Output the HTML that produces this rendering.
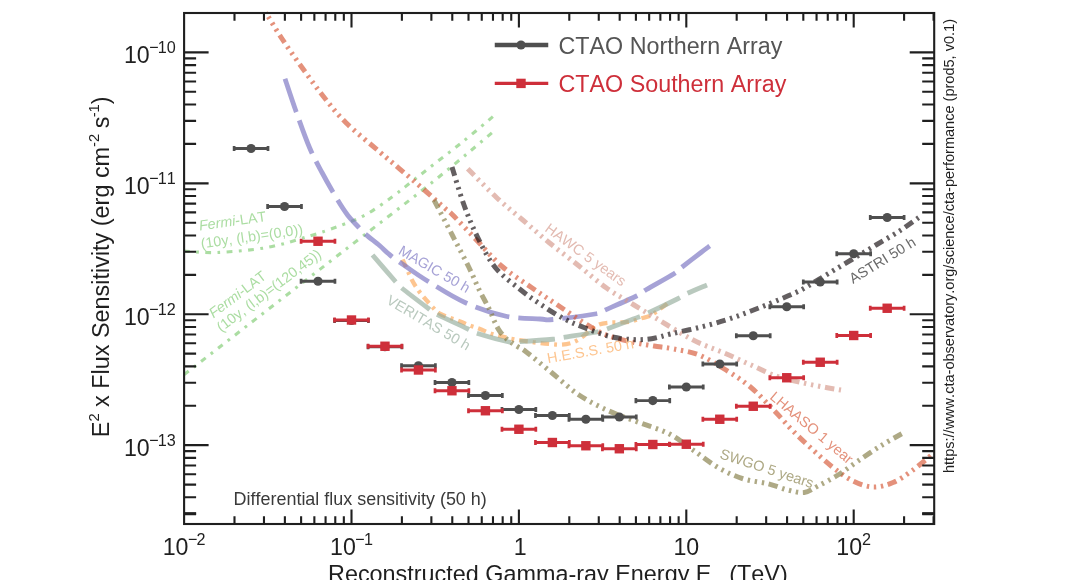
<!DOCTYPE html>
<html lang="en"><head><meta charset="utf-8"><title>CTAO differential flux sensitivity</title>
<style>html,body{margin:0;padding:0;background:#fff;}body{width:1068px;height:580px;overflow:hidden;}svg{display:block;}text{font-family:"Liberation Sans",Arial,Helvetica,sans-serif;font-kerning:none;}</style></head><body>
<svg width="1068" height="580" viewBox="0 0 1068 580">
<rect x="0" y="0" width="1068" height="580" fill="#fff"/>
<g fill="none" stroke-linecap="butt" stroke-linejoin="round">
<path d="M184.00 251.00 C189.50 251.25 203.17 253.08 217.00 252.50 C230.83 251.92 251.58 250.25 267.00 247.50 C282.42 244.75 297.00 239.75 309.50 236.00 C322.00 232.25 332.42 228.67 342.00 225.00 C351.58 221.33 358.67 218.67 367.00 214.00 C375.33 209.33 384.83 202.17 392.00 197.00 C399.17 191.83 404.10 187.62 410.00 183.00 C415.90 178.38 418.80 176.02 427.40 169.30 C436.00 162.58 450.20 151.88 461.60 142.70 C473.00 133.52 490.10 118.95 495.80 114.20" stroke="#7ECB70" stroke-opacity="0.65" stroke-width="3.1" stroke-dasharray="5.8 6.4 2.8 6.4" stroke-dashoffset="0.0"/>
<path d="M184.30 374.50 C197.25 364.45 236.05 334.32 262.00 314.20 C287.95 294.08 311.67 275.75 340.00 253.80 C368.33 231.85 406.12 203.13 432.00 182.50 C457.88 161.87 484.71 138.75 495.25 130.00" stroke="#7ECB70" stroke-opacity="0.65" stroke-width="3.1" stroke-dasharray="5.8 6.4 2.8 6.4" stroke-dashoffset="0.0"/>
<path d="M402.60 259.50 C404.12 262.82 409.02 274.18 411.70 279.40 C414.38 284.62 416.43 287.55 418.70 290.80 C420.97 294.05 423.08 296.28 425.30 298.90 C427.52 301.52 429.47 303.98 432.00 306.50 C434.53 309.02 435.92 311.55 440.50 314.00 C445.08 316.45 454.60 319.28 459.50 321.20 C464.40 323.12 466.58 324.25 469.90 325.50 C473.22 326.75 476.25 327.48 479.40 328.70 C482.55 329.92 485.65 331.63 488.80 332.80 C491.95 333.97 493.93 334.58 498.30 335.70 C502.67 336.82 509.05 338.40 515.00 339.50 C520.95 340.60 528.17 341.55 534.00 342.30 C539.83 343.05 545.40 343.62 550.00 344.00 C554.60 344.38 557.92 344.82 561.60 344.60 C565.28 344.38 568.82 343.85 572.10 342.70 C575.38 341.55 578.32 339.73 581.30 337.70 C584.28 335.67 587.05 332.68 590.00 330.50 C592.95 328.32 595.87 325.90 599.00 324.60 C602.13 323.30 605.42 323.07 608.80 322.70 C612.18 322.33 615.70 322.57 619.30 322.40 C622.90 322.23 626.80 322.37 630.40 321.70 C634.00 321.03 637.63 319.38 640.90 318.40 C644.17 317.42 646.93 317.27 650.00 315.80 C653.07 314.33 656.23 311.78 659.30 309.60 C662.37 307.42 666.88 303.85 668.40 302.70" stroke="#FCA654" stroke-opacity="0.65" stroke-width="4.3" stroke-dasharray="8.5 5 3 5" stroke-dashoffset="0.0"/>
<path d="M372.50 255.00 C376.25 259.33 390.25 275.58 395.00 281.00 C399.75 286.42 395.38 282.88 401.00 287.50 C406.62 292.12 422.92 304.38 428.75 308.75 C434.58 313.12 429.54 310.42 436.00 313.75 C442.46 317.08 460.96 325.58 467.50 328.75 C474.04 331.92 468.33 330.54 475.25 332.75 C482.17 334.96 501.71 340.50 509.00 342.00 C516.29 343.50 511.71 342.21 519.00 341.75 C526.29 341.29 545.46 339.96 552.75 339.25 C560.04 338.54 555.88 338.62 562.75 337.50 C569.62 336.38 587.12 333.75 594.00 332.50 C600.88 331.25 597.33 332.29 604.00 330.00 C610.67 327.71 626.92 321.46 634.00 318.75 C641.08 316.04 639.21 317.08 646.50 313.75 C653.79 310.42 671.08 302.08 677.75 298.75 C684.42 295.42 681.62 296.04 686.50 293.75 C691.38 291.46 703.58 286.46 707.00 285.00" stroke="#93AC9B" stroke-opacity="0.65" stroke-width="4.8" stroke-dasharray="35.2 9.0" stroke-dashoffset="0.0"/>
<path d="M285.00 78.75 C286.88 84.29 292.17 100.54 296.25 112.00 C300.33 123.46 305.21 137.42 309.50 147.50 C313.79 157.58 317.42 163.92 322.00 172.50 C326.58 181.08 332.75 191.92 337.00 199.00 C341.25 206.08 344.17 210.58 347.50 215.00 C350.83 219.42 354.08 222.38 357.00 225.50 C359.92 228.62 361.25 230.42 365.00 233.75 C368.75 237.08 375.33 241.96 379.50 245.50 C383.67 249.04 385.83 251.67 390.00 255.00 C394.17 258.33 398.25 261.17 404.50 265.50 C410.75 269.83 417.42 274.83 427.50 281.00 C437.58 287.17 452.08 296.67 465.00 302.50 C477.92 308.33 492.50 313.25 505.00 316.00 C517.50 318.75 532.00 318.42 540.00 319.00 C548.00 319.58 543.58 320.38 553.00 319.50 C562.42 318.62 588.00 315.25 596.50 313.75 C605.00 312.25 597.33 313.46 604.00 310.50 C610.67 307.54 629.42 299.50 636.50 296.00 C643.58 292.50 640.25 293.21 646.50 289.50 C652.75 285.79 668.17 277.42 674.00 273.75 C679.83 270.08 677.00 271.04 681.50 267.50 C686.00 263.96 696.29 256.08 701.00 252.50 C705.71 248.92 708.29 247.08 709.75 246.00" stroke="#7670C0" stroke-opacity="0.65" stroke-width="4.8" stroke-dasharray="35.2 9.0" stroke-dashoffset="0.0"/>
<path d="M467.75 168.75 C472.54 173.54 487.33 188.96 496.50 197.50 C505.67 206.04 514.00 212.50 522.75 220.00 C531.50 227.50 539.83 235.00 549.00 242.50 C558.17 250.00 568.17 257.42 577.75 265.00 C587.33 272.58 597.12 281.33 606.50 288.00 C615.88 294.67 625.25 299.67 634.00 305.00 C642.75 310.33 650.67 315.00 659.00 320.00 C667.33 325.00 677.00 331.04 684.00 335.00 C691.00 338.96 694.00 340.62 701.00 343.75 C708.00 346.88 717.67 350.21 726.00 353.75 C734.33 357.29 742.67 361.29 751.00 365.00 C759.33 368.71 767.67 373.08 776.00 376.00 C784.33 378.92 792.67 380.58 801.00 382.50 C809.33 384.42 819.33 386.25 826.00 387.50 C832.67 388.75 838.50 389.58 841.00 390.00" stroke="#D49689" stroke-opacity="0.65" stroke-width="5.0" stroke-dasharray="9.4 4.7 2.4 4.7 2.4 4.7 2.4 4.7" stroke-dashoffset="0.0"/>
<path d="M265.75 12.50 C268.46 16.88 275.96 29.58 282.00 38.75 C288.04 47.92 295.12 57.92 302.00 67.50 C308.88 77.08 315.96 87.08 323.25 96.25 C330.54 105.42 336.29 113.17 345.75 122.50 C355.21 131.82 371.12 144.57 380.00 152.20 C388.88 159.83 391.42 161.83 399.00 168.30 C406.58 174.77 417.92 184.38 425.50 191.00 C433.08 197.62 439.96 204.00 444.50 208.00 C449.04 212.00 447.42 209.67 452.75 215.00 C458.08 220.33 468.38 231.50 476.50 240.00 C484.62 248.50 492.33 258.08 501.50 266.00 C510.67 273.92 521.92 280.83 531.50 287.50 C541.08 294.17 549.42 299.58 559.00 306.00 C568.58 312.42 580.67 321.00 589.00 326.00 C597.33 331.00 601.50 333.25 609.00 336.00 C616.50 338.75 626.50 340.83 634.00 342.50 C641.50 344.17 647.33 344.92 654.00 346.00 C660.67 347.08 666.50 347.50 674.00 349.00 C681.50 350.50 690.33 351.50 699.00 355.00 C707.67 358.50 717.33 364.58 726.00 370.00 C734.67 375.42 742.67 380.42 751.00 387.50 C759.33 394.58 769.00 405.25 776.00 412.50 C783.00 419.75 786.83 424.75 793.00 431.00 C799.17 437.25 806.33 443.92 813.00 450.00 C819.67 456.08 826.33 462.33 833.00 467.50 C839.67 472.67 846.33 477.75 853.00 481.00 C859.67 484.25 866.33 486.75 873.00 487.00 C879.67 487.25 886.33 485.33 893.00 482.50 C899.67 479.67 906.33 474.79 913.00 470.00 C919.67 465.21 929.67 456.46 933.00 453.75" stroke="#D55634" stroke-opacity="0.65" stroke-width="5.0" stroke-dasharray="9.4 4.7 2.4 4.7 2.4 4.7 2.4 4.7" stroke-dashoffset="9.0"/>
<path d="M434.00 200.00 C437.12 206.00 446.92 224.75 452.75 236.00 C458.58 247.25 464.62 258.58 469.00 267.50 C473.38 276.42 475.67 282.67 479.00 289.50 C482.33 296.33 486.38 303.10 489.00 308.50 C491.62 313.90 492.97 318.20 494.70 321.90 C496.43 325.60 497.42 327.85 499.40 330.70 C501.38 333.55 504.45 336.93 506.60 339.00 C508.75 341.07 510.40 341.80 512.30 343.10 C514.20 344.40 515.67 345.33 518.00 346.80 C520.33 348.27 520.72 347.62 526.30 351.90 C531.88 356.18 542.72 365.32 551.50 372.50 C560.28 379.68 569.42 388.58 579.00 395.00 C588.58 401.42 599.00 406.42 609.00 411.00 C619.00 415.58 629.00 418.71 639.00 422.50 C649.00 426.29 660.00 429.17 669.00 433.75 C678.00 438.33 684.83 444.38 693.00 450.00 C701.17 455.62 709.67 462.71 718.00 467.50 C726.33 472.29 734.67 476.04 743.00 478.75 C751.33 481.46 760.50 481.88 768.00 483.75 C775.50 485.62 781.96 488.54 788.00 490.00 C794.04 491.46 799.25 493.17 804.25 492.50 C809.25 491.83 812.38 488.92 818.00 486.00 C823.62 483.08 831.33 479.17 838.00 475.00 C844.67 470.83 850.92 465.83 858.00 461.00 C865.08 456.17 873.21 450.54 880.50 446.00 C887.79 441.46 898.21 435.79 901.75 433.75" stroke="#827B43" stroke-opacity="0.65" stroke-width="5.0" stroke-dasharray="9.4 4.7 2.4 4.7 2.4 4.7 2.4 4.7" stroke-dashoffset="0.0"/>
<path d="M452.00 167.00 C454.00 173.33 459.71 193.25 464.00 205.00 C468.29 216.75 472.54 227.08 477.75 237.50 C482.96 247.92 488.17 258.83 495.25 267.50 C502.33 276.17 512.54 283.25 520.25 289.50 C527.96 295.75 534.21 300.12 541.50 305.00 C548.79 309.88 556.92 315.00 564.00 318.75 C571.08 322.50 576.50 324.58 584.00 327.50 C591.50 330.42 601.08 334.25 609.00 336.25 C616.92 338.25 624.42 339.08 631.50 339.50 C638.58 339.92 644.83 339.71 651.50 338.75 C658.17 337.79 663.58 335.62 671.50 333.75 C679.42 331.88 689.92 329.79 699.00 327.50 C708.08 325.21 717.33 322.75 726.00 320.00 C734.67 317.25 742.67 314.17 751.00 311.00 C759.33 307.83 767.67 304.50 776.00 301.00 C784.33 297.50 792.67 294.33 801.00 290.00 C809.33 285.67 817.67 280.00 826.00 275.00 C834.33 270.00 842.67 265.00 851.00 260.00 C859.33 255.00 867.67 250.00 876.00 245.00 C884.33 240.00 893.29 235.00 901.00 230.00 C908.71 225.00 918.71 217.50 922.25 215.00" stroke="#11090C" stroke-opacity="0.65" stroke-width="5.0" stroke-dasharray="9.4 4.7 2.4 4.7 2.4 4.7 2.4 4.7" stroke-dashoffset="0.0"/>
</g>
<text x="199.7" y="230.5" transform="rotate(-8.0 199.7 230.5)" fill="#ABDDA2" font-size="14.3" text-anchor="start"><tspan font-style="italic">Fermi</tspan>-LAT</text>
<text x="201.5" y="248.5" transform="rotate(-8.0 201.5 248.5)" fill="#ABDDA2" font-size="14.3" text-anchor="start">(10y, (l,b)=(0,0))</text>
<text x="213.4" y="318.6" transform="rotate(-37.0 213.4 318.6)" fill="#ABDDA2" font-size="14.3" text-anchor="start"><tspan font-style="italic">Fermi</tspan>-LAT</text>
<text x="221.2" y="332.4" transform="rotate(-37.0 221.2 332.4)" fill="#ABDDA2" font-size="14.3" text-anchor="start">(10y, (l,b)=(120,45))</text>
<text x="397.5" y="253.5" transform="rotate(30.0 397.5 253.5)" fill="#A6A2D6" font-size="14.5" text-anchor="start">MAGIC 50 h</text>
<text x="385.5" y="303.0" transform="rotate(30.5 385.5 303.0)" fill="#B9C9BE" font-size="14.5" text-anchor="start">VERITAS 50 h</text>
<text x="548.0" y="363.3" transform="rotate(-10.0 548.0 363.3)" fill="#FDC590" font-size="14.5" text-anchor="start">H.E.S.S. 50 h</text>
<text x="544.0" y="230.5" transform="rotate(36.0 544.0 230.5)" fill="#E3BBB2" font-size="14.5" text-anchor="start">HAWC 5 years</text>
<text x="853.0" y="284.0" transform="rotate(-31.5 853.0 284.0)" fill="#6A6A6A" font-size="14.5" text-anchor="start">ASTRI 50 h</text>
<text x="769.0" y="398.2" transform="rotate(40.0 769.0 398.2)" fill="#E4917B" font-size="14.5" text-anchor="start">LHAASO 1 year</text>
<text x="719.0" y="458.0" transform="rotate(18.0 719.0 458.0)" fill="#AEA985" font-size="14.5" text-anchor="start">SWGO 5 years</text>
<path d="M234.32 148.50 H267.80" stroke="#4F4F4F" stroke-width="2.8" fill="none"/>
<path d="M234.12 145.90 V151.10 M268.00 145.90 V151.10" stroke="#4F4F4F" stroke-width="2.7" fill="none"/>
<circle cx="251.06" cy="148.50" r="4.6" fill="#4F4F4F"/>
<path d="M267.80 206.50 H301.28" stroke="#4F4F4F" stroke-width="2.8" fill="none"/>
<path d="M267.60 203.90 V209.10 M301.48 203.90 V209.10" stroke="#4F4F4F" stroke-width="2.7" fill="none"/>
<circle cx="284.54" cy="206.50" r="4.6" fill="#4F4F4F"/>
<path d="M301.28 281.25 H334.76" stroke="#4F4F4F" stroke-width="2.8" fill="none"/>
<path d="M301.08 278.65 V283.85 M334.96 278.65 V283.85" stroke="#4F4F4F" stroke-width="2.7" fill="none"/>
<circle cx="318.02" cy="281.25" r="4.6" fill="#4F4F4F"/>
<path d="M334.76 320.50 H368.24" stroke="#4F4F4F" stroke-width="2.8" fill="none"/>
<path d="M334.56 317.90 V323.10 M368.44 317.90 V323.10" stroke="#4F4F4F" stroke-width="2.7" fill="none"/>
<circle cx="351.50" cy="320.50" r="4.6" fill="#4F4F4F"/>
<path d="M368.24 346.75 H401.72" stroke="#4F4F4F" stroke-width="2.8" fill="none"/>
<path d="M368.04 344.15 V349.35 M401.92 344.15 V349.35" stroke="#4F4F4F" stroke-width="2.7" fill="none"/>
<circle cx="384.98" cy="346.75" r="4.6" fill="#4F4F4F"/>
<path d="M401.72 365.75 H435.20" stroke="#4F4F4F" stroke-width="2.8" fill="none"/>
<path d="M401.52 363.15 V368.35 M435.40 363.15 V368.35" stroke="#4F4F4F" stroke-width="2.7" fill="none"/>
<circle cx="418.46" cy="365.75" r="4.6" fill="#4F4F4F"/>
<path d="M435.20 382.50 H468.68" stroke="#4F4F4F" stroke-width="2.8" fill="none"/>
<path d="M435.00 379.90 V385.10 M468.88 379.90 V385.10" stroke="#4F4F4F" stroke-width="2.7" fill="none"/>
<circle cx="451.94" cy="382.50" r="4.6" fill="#4F4F4F"/>
<path d="M468.68 395.50 H502.16" stroke="#4F4F4F" stroke-width="2.8" fill="none"/>
<path d="M468.48 392.90 V398.10 M502.36 392.90 V398.10" stroke="#4F4F4F" stroke-width="2.7" fill="none"/>
<circle cx="485.42" cy="395.50" r="4.6" fill="#4F4F4F"/>
<path d="M502.16 409.50 H535.64" stroke="#4F4F4F" stroke-width="2.8" fill="none"/>
<path d="M501.96 406.90 V412.10 M535.84 406.90 V412.10" stroke="#4F4F4F" stroke-width="2.7" fill="none"/>
<circle cx="518.90" cy="409.50" r="4.6" fill="#4F4F4F"/>
<path d="M535.64 415.50 H569.12" stroke="#4F4F4F" stroke-width="2.8" fill="none"/>
<path d="M535.44 412.90 V418.10 M569.32 412.90 V418.10" stroke="#4F4F4F" stroke-width="2.7" fill="none"/>
<circle cx="552.38" cy="415.50" r="4.6" fill="#4F4F4F"/>
<path d="M569.12 419.25 H602.60" stroke="#4F4F4F" stroke-width="2.8" fill="none"/>
<path d="M568.92 416.65 V421.85 M602.80 416.65 V421.85" stroke="#4F4F4F" stroke-width="2.7" fill="none"/>
<circle cx="585.86" cy="419.25" r="4.6" fill="#4F4F4F"/>
<path d="M602.60 417.00 H636.08" stroke="#4F4F4F" stroke-width="2.8" fill="none"/>
<path d="M602.40 414.40 V419.60 M636.28 414.40 V419.60" stroke="#4F4F4F" stroke-width="2.7" fill="none"/>
<circle cx="619.34" cy="417.00" r="4.6" fill="#4F4F4F"/>
<path d="M636.08 400.60 H669.56" stroke="#4F4F4F" stroke-width="2.8" fill="none"/>
<path d="M635.88 398.00 V403.20 M669.76 398.00 V403.20" stroke="#4F4F4F" stroke-width="2.7" fill="none"/>
<circle cx="652.82" cy="400.60" r="4.6" fill="#4F4F4F"/>
<path d="M669.56 387.00 H703.04" stroke="#4F4F4F" stroke-width="2.8" fill="none"/>
<path d="M669.36 384.40 V389.60 M703.24 384.40 V389.60" stroke="#4F4F4F" stroke-width="2.7" fill="none"/>
<circle cx="686.30" cy="387.00" r="4.6" fill="#4F4F4F"/>
<path d="M703.04 364.00 H736.52" stroke="#4F4F4F" stroke-width="2.8" fill="none"/>
<path d="M702.84 361.40 V366.60 M736.72 361.40 V366.60" stroke="#4F4F4F" stroke-width="2.7" fill="none"/>
<circle cx="719.78" cy="364.00" r="4.6" fill="#4F4F4F"/>
<path d="M736.52 335.75 H770.00" stroke="#4F4F4F" stroke-width="2.8" fill="none"/>
<path d="M736.32 333.15 V338.35 M770.20 333.15 V338.35" stroke="#4F4F4F" stroke-width="2.7" fill="none"/>
<circle cx="753.26" cy="335.75" r="4.6" fill="#4F4F4F"/>
<path d="M770.00 306.75 H803.48" stroke="#4F4F4F" stroke-width="2.8" fill="none"/>
<path d="M769.80 304.15 V309.35 M803.68 304.15 V309.35" stroke="#4F4F4F" stroke-width="2.7" fill="none"/>
<circle cx="786.74" cy="306.75" r="4.6" fill="#4F4F4F"/>
<path d="M803.48 282.00 H836.96" stroke="#4F4F4F" stroke-width="2.8" fill="none"/>
<path d="M803.28 279.40 V284.60 M837.16 279.40 V284.60" stroke="#4F4F4F" stroke-width="2.7" fill="none"/>
<circle cx="820.22" cy="282.00" r="4.6" fill="#4F4F4F"/>
<path d="M836.96 253.75 H870.44" stroke="#4F4F4F" stroke-width="2.8" fill="none"/>
<path d="M836.76 251.15 V256.35 M870.64 251.15 V256.35" stroke="#4F4F4F" stroke-width="2.7" fill="none"/>
<circle cx="853.70" cy="253.75" r="4.6" fill="#4F4F4F"/>
<path d="M870.44 217.50 H903.92" stroke="#4F4F4F" stroke-width="2.8" fill="none"/>
<path d="M870.24 214.90 V220.10 M904.12 214.90 V220.10" stroke="#4F4F4F" stroke-width="2.7" fill="none"/>
<circle cx="887.18" cy="217.50" r="4.6" fill="#4F4F4F"/>
<path d="M301.28 241.25 H334.76" stroke="#CE2F3A" stroke-width="3.1" fill="none"/>
<path d="M301.08 238.65 V243.85 M334.96 238.65 V243.85" stroke="#CE2F3A" stroke-width="2.7" fill="none"/>
<rect x="313.32" y="236.55" width="9.4" height="9.4" fill="#CE2F3A"/>
<path d="M334.76 320.00 H368.24" stroke="#CE2F3A" stroke-width="3.1" fill="none"/>
<path d="M334.56 317.40 V322.60 M368.44 317.40 V322.60" stroke="#CE2F3A" stroke-width="2.7" fill="none"/>
<rect x="346.80" y="315.30" width="9.4" height="9.4" fill="#CE2F3A"/>
<path d="M368.24 346.25 H401.72" stroke="#CE2F3A" stroke-width="3.1" fill="none"/>
<path d="M368.04 343.65 V348.85 M401.92 343.65 V348.85" stroke="#CE2F3A" stroke-width="2.7" fill="none"/>
<rect x="380.28" y="341.55" width="9.4" height="9.4" fill="#CE2F3A"/>
<path d="M401.72 370.00 H435.20" stroke="#CE2F3A" stroke-width="3.1" fill="none"/>
<path d="M401.52 367.40 V372.60 M435.40 367.40 V372.60" stroke="#CE2F3A" stroke-width="2.7" fill="none"/>
<rect x="413.76" y="365.30" width="9.4" height="9.4" fill="#CE2F3A"/>
<path d="M435.20 390.75 H468.68" stroke="#CE2F3A" stroke-width="3.1" fill="none"/>
<path d="M435.00 388.15 V393.35 M468.88 388.15 V393.35" stroke="#CE2F3A" stroke-width="2.7" fill="none"/>
<rect x="447.24" y="386.05" width="9.4" height="9.4" fill="#CE2F3A"/>
<path d="M468.68 410.75 H502.16" stroke="#CE2F3A" stroke-width="3.1" fill="none"/>
<path d="M468.48 408.15 V413.35 M502.36 408.15 V413.35" stroke="#CE2F3A" stroke-width="2.7" fill="none"/>
<rect x="480.72" y="406.05" width="9.4" height="9.4" fill="#CE2F3A"/>
<path d="M502.16 429.25 H535.64" stroke="#CE2F3A" stroke-width="3.1" fill="none"/>
<path d="M501.96 426.65 V431.85 M535.84 426.65 V431.85" stroke="#CE2F3A" stroke-width="2.7" fill="none"/>
<rect x="514.20" y="424.55" width="9.4" height="9.4" fill="#CE2F3A"/>
<path d="M535.64 442.50 H569.12" stroke="#CE2F3A" stroke-width="3.1" fill="none"/>
<path d="M535.44 439.90 V445.10 M569.32 439.90 V445.10" stroke="#CE2F3A" stroke-width="2.7" fill="none"/>
<rect x="547.68" y="437.80" width="9.4" height="9.4" fill="#CE2F3A"/>
<path d="M569.12 445.75 H602.60" stroke="#CE2F3A" stroke-width="3.1" fill="none"/>
<path d="M568.92 443.15 V448.35 M602.80 443.15 V448.35" stroke="#CE2F3A" stroke-width="2.7" fill="none"/>
<rect x="581.16" y="441.05" width="9.4" height="9.4" fill="#CE2F3A"/>
<path d="M602.60 448.75 H636.08" stroke="#CE2F3A" stroke-width="3.1" fill="none"/>
<path d="M602.40 446.15 V451.35 M636.28 446.15 V451.35" stroke="#CE2F3A" stroke-width="2.7" fill="none"/>
<rect x="614.64" y="444.05" width="9.4" height="9.4" fill="#CE2F3A"/>
<path d="M636.08 444.50 H669.56" stroke="#CE2F3A" stroke-width="3.1" fill="none"/>
<path d="M635.88 441.90 V447.10 M669.76 441.90 V447.10" stroke="#CE2F3A" stroke-width="2.7" fill="none"/>
<rect x="648.12" y="439.80" width="9.4" height="9.4" fill="#CE2F3A"/>
<path d="M669.56 444.25 H703.04" stroke="#CE2F3A" stroke-width="3.1" fill="none"/>
<path d="M669.36 441.65 V446.85 M703.24 441.65 V446.85" stroke="#CE2F3A" stroke-width="2.7" fill="none"/>
<rect x="681.60" y="439.55" width="9.4" height="9.4" fill="#CE2F3A"/>
<path d="M703.04 419.25 H736.52" stroke="#CE2F3A" stroke-width="3.1" fill="none"/>
<path d="M702.84 416.65 V421.85 M736.72 416.65 V421.85" stroke="#CE2F3A" stroke-width="2.7" fill="none"/>
<rect x="715.08" y="414.55" width="9.4" height="9.4" fill="#CE2F3A"/>
<path d="M736.52 406.25 H770.00" stroke="#CE2F3A" stroke-width="3.1" fill="none"/>
<path d="M736.32 403.65 V408.85 M770.20 403.65 V408.85" stroke="#CE2F3A" stroke-width="2.7" fill="none"/>
<rect x="748.56" y="401.55" width="9.4" height="9.4" fill="#CE2F3A"/>
<path d="M770.00 377.75 H803.48" stroke="#CE2F3A" stroke-width="3.1" fill="none"/>
<path d="M769.80 375.15 V380.35 M803.68 375.15 V380.35" stroke="#CE2F3A" stroke-width="2.7" fill="none"/>
<rect x="782.04" y="373.05" width="9.4" height="9.4" fill="#CE2F3A"/>
<path d="M803.48 362.25 H836.96" stroke="#CE2F3A" stroke-width="3.1" fill="none"/>
<path d="M803.28 359.65 V364.85 M837.16 359.65 V364.85" stroke="#CE2F3A" stroke-width="2.7" fill="none"/>
<rect x="815.52" y="357.55" width="9.4" height="9.4" fill="#CE2F3A"/>
<path d="M836.96 335.50 H870.44" stroke="#CE2F3A" stroke-width="3.1" fill="none"/>
<path d="M836.76 332.90 V338.10 M870.64 332.90 V338.10" stroke="#CE2F3A" stroke-width="2.7" fill="none"/>
<rect x="849.00" y="330.80" width="9.4" height="9.4" fill="#CE2F3A"/>
<path d="M870.44 308.25 H903.92" stroke="#CE2F3A" stroke-width="3.1" fill="none"/>
<path d="M870.24 305.65 V310.85 M904.12 305.65 V310.85" stroke="#CE2F3A" stroke-width="2.7" fill="none"/>
<rect x="882.48" y="303.55" width="9.4" height="9.4" fill="#CE2F3A"/>
<g stroke="#1f1f1f" stroke-width="2.1" fill="none" stroke-linecap="butt">
<rect x="184.10" y="13.00" width="750.10" height="511.00"/>
<path d="M234.49 524.00 v-7.80 M234.49 13.00 v7.80 M263.97 524.00 v-7.80 M263.97 13.00 v7.80 M284.88 524.00 v-7.80 M284.88 13.00 v7.80 M301.11 524.00 v-7.80 M301.11 13.00 v7.80 M314.36 524.00 v-7.80 M314.36 13.00 v7.80 M325.57 524.00 v-7.80 M325.57 13.00 v7.80 M335.28 524.00 v-7.80 M335.28 13.00 v7.80 M343.84 524.00 v-7.80 M343.84 13.00 v7.80 M351.50 524.00 v-14.50 M351.50 13.00 v14.50 M401.89 524.00 v-7.80 M401.89 13.00 v7.80 M431.37 524.00 v-7.80 M431.37 13.00 v7.80 M452.28 524.00 v-7.80 M452.28 13.00 v7.80 M468.51 524.00 v-7.80 M468.51 13.00 v7.80 M481.76 524.00 v-7.80 M481.76 13.00 v7.80 M492.97 524.00 v-7.80 M492.97 13.00 v7.80 M502.68 524.00 v-7.80 M502.68 13.00 v7.80 M511.24 524.00 v-7.80 M511.24 13.00 v7.80 M518.90 524.00 v-14.50 M518.90 13.00 v14.50 M569.29 524.00 v-7.80 M569.29 13.00 v7.80 M598.77 524.00 v-7.80 M598.77 13.00 v7.80 M619.68 524.00 v-7.80 M619.68 13.00 v7.80 M635.91 524.00 v-7.80 M635.91 13.00 v7.80 M649.16 524.00 v-7.80 M649.16 13.00 v7.80 M660.37 524.00 v-7.80 M660.37 13.00 v7.80 M670.08 524.00 v-7.80 M670.08 13.00 v7.80 M678.64 524.00 v-7.80 M678.64 13.00 v7.80 M686.30 524.00 v-14.50 M686.30 13.00 v14.50 M736.69 524.00 v-7.80 M736.69 13.00 v7.80 M766.17 524.00 v-7.80 M766.17 13.00 v7.80 M787.08 524.00 v-7.80 M787.08 13.00 v7.80 M803.31 524.00 v-7.80 M803.31 13.00 v7.80 M816.56 524.00 v-7.80 M816.56 13.00 v7.80 M827.77 524.00 v-7.80 M827.77 13.00 v7.80 M837.48 524.00 v-7.80 M837.48 13.00 v7.80 M846.04 524.00 v-7.80 M846.04 13.00 v7.80 M853.70 524.00 v-14.50 M853.70 13.00 v14.50 M904.09 524.00 v-7.80 M904.09 13.00 v7.80 M933.57 524.00 v-7.80 M933.57 13.00 v7.80 "/>
<path d="M184.10 513.63 h12.00 M934.20 513.63 h-12.00 M184.10 497.27 h12.00 M934.20 497.27 h-12.00 M184.10 484.58 h12.00 M934.20 484.58 h-12.00 M184.10 474.21 h12.00 M934.20 474.21 h-12.00 M184.10 465.45 h12.00 M934.20 465.45 h-12.00 M184.10 457.86 h12.00 M934.20 457.86 h-12.00 M184.10 451.16 h12.00 M934.20 451.16 h-12.00 M184.10 445.17 h24.50 M934.20 445.17 h-24.50 M184.10 405.76 h12.00 M934.20 405.76 h-12.00 M184.10 382.71 h12.00 M934.20 382.71 h-12.00 M184.10 366.35 h12.00 M934.20 366.35 h-12.00 M184.10 353.66 h12.00 M934.20 353.66 h-12.00 M184.10 343.29 h12.00 M934.20 343.29 h-12.00 M184.10 334.53 h12.00 M934.20 334.53 h-12.00 M184.10 326.94 h12.00 M934.20 326.94 h-12.00 M184.10 320.24 h12.00 M934.20 320.24 h-12.00 M184.10 314.25 h24.50 M934.20 314.25 h-24.50 M184.10 274.84 h12.00 M934.20 274.84 h-12.00 M184.10 251.79 h12.00 M934.20 251.79 h-12.00 M184.10 235.43 h12.00 M934.20 235.43 h-12.00 M184.10 222.74 h12.00 M934.20 222.74 h-12.00 M184.10 212.37 h12.00 M934.20 212.37 h-12.00 M184.10 203.61 h12.00 M934.20 203.61 h-12.00 M184.10 196.02 h12.00 M934.20 196.02 h-12.00 M184.10 189.32 h12.00 M934.20 189.32 h-12.00 M184.10 183.33 h24.50 M934.20 183.33 h-24.50 M184.10 143.92 h12.00 M934.20 143.92 h-12.00 M184.10 120.87 h12.00 M934.20 120.87 h-12.00 M184.10 104.51 h12.00 M934.20 104.51 h-12.00 M184.10 91.82 h12.00 M934.20 91.82 h-12.00 M184.10 81.45 h12.00 M934.20 81.45 h-12.00 M184.10 72.69 h12.00 M934.20 72.69 h-12.00 M184.10 65.10 h12.00 M934.20 65.10 h-12.00 M184.10 58.40 h12.00 M934.20 58.40 h-12.00 M184.10 52.41 h24.50 M934.20 52.41 h-24.50 "/>
<path d="M184.10 513.63 h12 M934.20 513.63 h-12" stroke-width="3"/>
</g>
<text transform="translate(175.80 63.11) scale(1 1.040)" font-size="23.20" text-anchor="end" fill="#1f1f1f">10<tspan font-size="16.20" dy="-9.71" dx="-0.5">−</tspan><tspan font-size="16.20" dx="-0.9">10</tspan></text>
<text transform="translate(175.80 194.03) scale(1 1.040)" font-size="23.20" text-anchor="end" fill="#1f1f1f">10<tspan font-size="16.20" dy="-9.71" dx="-0.5">−</tspan><tspan font-size="16.20" dx="-0.9">11</tspan></text>
<text transform="translate(175.80 324.95) scale(1 1.040)" font-size="23.20" text-anchor="end" fill="#1f1f1f">10<tspan font-size="16.20" dy="-9.71" dx="-0.5">−</tspan><tspan font-size="16.20" dx="-0.9">12</tspan></text>
<text transform="translate(175.80 455.87) scale(1 1.040)" font-size="23.20" text-anchor="end" fill="#1f1f1f">10<tspan font-size="16.20" dy="-9.71" dx="-0.5">−</tspan><tspan font-size="16.20" dx="-0.9">13</tspan></text>
<text transform="translate(184.10 554.60) scale(1 1.040)" font-size="23.20" text-anchor="middle" fill="#1f1f1f">10<tspan font-size="16.20" dy="-9.71" dx="-0.5">−</tspan><tspan font-size="16.20" dx="-0.9">2</tspan></text>
<text transform="translate(351.50 554.60) scale(1 1.040)" font-size="23.20" text-anchor="middle" fill="#1f1f1f">10<tspan font-size="16.20" dy="-9.71" dx="-0.5">−</tspan><tspan font-size="16.20" dx="-0.9">1</tspan></text>
<text transform="translate(520.20 554.60) scale(1 1.040)" font-size="23.20" text-anchor="middle" fill="#1f1f1f">1</text>
<text transform="translate(686.30 554.60) scale(1 1.040)" font-size="23.20" text-anchor="middle" fill="#1f1f1f">10</text>
<text transform="translate(853.70 554.60) scale(1 1.040)" font-size="23.20" text-anchor="middle" fill="#1f1f1f">10<tspan font-size="16.20" dy="-9.71">2</tspan></text>
<text transform="translate(328.00 581.80) scale(1 1.040)" font-size="23.40" text-anchor="start" fill="#1f1f1f">Reconstructed Gamma-ray Energy E<tspan font-size="15.60" dy="10.58">R</tspan><tspan dy="-10.58"> (TeV)</tspan></text>
<text transform="translate(108.75 437.20) rotate(-90.0) scale(1 1.040)" font-size="23.42" text-anchor="start" fill="#1f1f1f">E<tspan font-size="14.6" dy="-8.93">2</tspan><tspan dy="8.93"> x Flux Sensitivity (erg cm</tspan><tspan font-size="14.6" dy="-8.93">-2</tspan><tspan dy="8.93" dx="-0.8"> s</tspan><tspan font-size="14.6" dy="-8.93" dx="-0.8">-1</tspan><tspan dy="8.93">)</tspan></text>
<text transform="translate(954.20 473.00) rotate(-90.0) scale(1 1.040)" font-size="14.55" text-anchor="start" fill="#1f1f1f">https://www.cta-observatory.org/science/cta-performance (prod5, v0.1)</text>
<text transform="translate(233.60 504.80) scale(1 1.040)" font-size="17.95" text-anchor="start" fill="#3a3a3a">Differential flux sensitivity (50 h)</text>
<path d="M494.75 45 H548.25" stroke="#4F4F4F" stroke-width="4.4"/>
<circle cx="521" cy="45" r="4.6" fill="#4F4F4F"/>
<text transform="translate(558.50 53.50) scale(1 1.040)" font-size="23.30" text-anchor="start" fill="#555555">CTAO Northern Array</text>
<path d="M494.75 83.4 H548.25" stroke="#CE2F3A" stroke-width="3.1"/>
<rect x="516.3" y="78.7" width="9.4" height="9.4" fill="#CE2F3A"/>
<text transform="translate(558.50 91.60) scale(1 1.040)" font-size="23.30" text-anchor="start" fill="#CE2F3A">CTAO Southern Array</text>
</svg></body></html>
